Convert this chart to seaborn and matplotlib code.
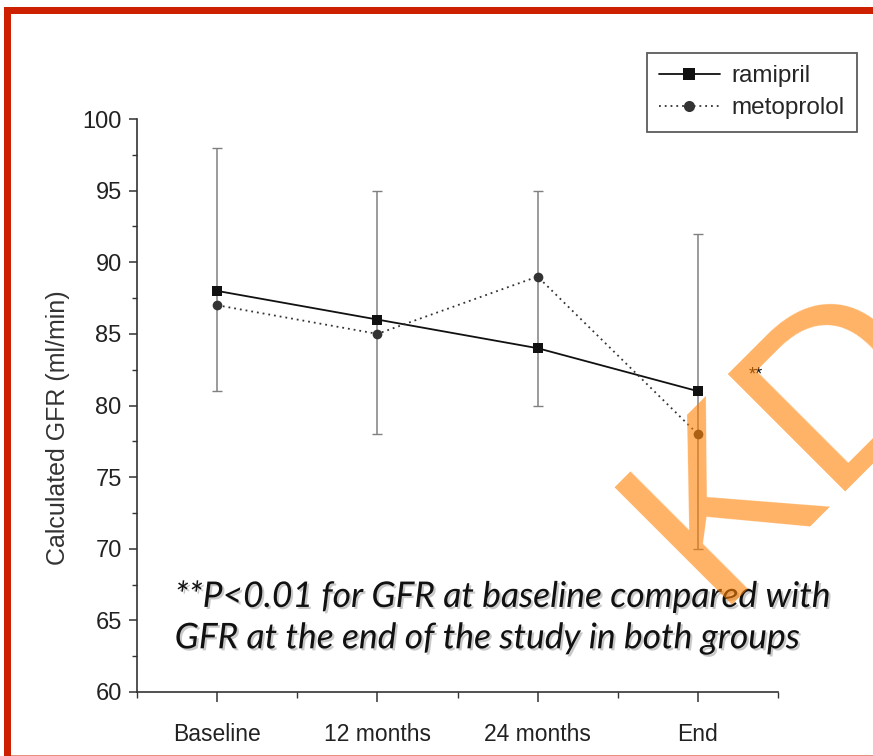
import matplotlib
matplotlib.use("Agg")
import matplotlib.pyplot as plt
import matplotlib.patheffects as pe
from matplotlib.lines import Line2D
from matplotlib.patches import Rectangle
from matplotlib.ticker import MultipleLocator
import numpy as np
import pandas as pd
import seaborn as sns

# data
timepoints = ["Baseline", "12 months", "24 months", "End"]
ramipril = [88, 86, 84, 81]
metoprolol = [87, 85, 89, 78]
err_low = [81, 78, 80, 70]
err_high = [98, 95, 95, 92]

sns.set_style("ticks")
plt.rcParams["font.family"] = ["Liberation Sans Narrow", "Liberation Sans", "DejaVu Sans"]

df = pd.DataFrame({
    "pos": list(range(len(timepoints))) * 2,
    "gfr": ramipril + metoprolol,
    "drug": ["ramipril"] * len(ramipril) + ["metoprolol"] * len(metoprolol),
})

fig = plt.figure(figsize=(8.73, 7.56), dpi=100)
ax = fig.add_axes([137 / 873, 1 - 692 / 756, (778 - 137) / 873, (692 - 119) / 756])

x = np.arange(len(timepoints))
lo = np.array(err_low)
hi = np.array(err_high)
ax.errorbar(x, (lo + hi) / 2, yerr=(hi - lo) / 2, fmt="none", ecolor="#808080",
            elinewidth=1.1, capsize=3.6, capthick=1.0, zorder=1)

sns.lineplot(data=df, x="pos", y="gfr", hue="drug", style="drug",
             palette={"ramipril": "#111111", "metoprolol": "#333333"},
             markers={"ramipril": "s", "metoprolol": "o"},
             dashes={"ramipril": "", "metoprolol": (1, 2.2)},
             markersize=7, markeredgewidth=0, linewidth=1.3,
             legend=False, ax=ax, zorder=2)

ax.set_xlim(-0.5, 3.5)
ax.set_ylim(60, 100)
ax.set_xticks(x)
ax.set_xticklabels(timepoints)
ax.xaxis.set_minor_locator(MultipleLocator(1, offset=0.5))
ax.yaxis.set_major_locator(MultipleLocator(5))
ax.yaxis.set_minor_locator(MultipleLocator(2.5))
ax.set_xlabel("")
ax.set_ylabel("Calculated GFR (ml/min)", fontsize=18, color="#333333")
ax.yaxis.set_label_coords(-0.105, 0.461)

for s in ["top", "right"]:
    ax.spines[s].set_visible(False)
for s in ["left", "bottom"]:
    ax.spines[s].set_color("#333333")
    ax.spines[s].set_linewidth(1.2)

ax.tick_params(axis="y", which="major", length=6, width=1.1, color="#333333",
               labelsize=17, labelcolor="#222222", pad=5)
ax.tick_params(axis="y", which="minor", length=3.6, width=1.0, color="#333333")
ax.tick_params(axis="x", which="major", length=7, width=1.1, color="#333333",
               labelsize=16.5, labelcolor="#222222", pad=15)
ax.tick_params(axis="x", which="minor", length=4, width=1.0, color="#333333")

ax.text(3.36, 82.1, "**", fontsize=13, ha="center", va="center", color="#111111")

# va="baseline" lines up the last line here
ax.text(-0.265, 63.05,
        "**P<0.01 for GFR at baseline compared with\nGFR at the end of the study in both groups",
        family=["Lato", "Open Sans", "DejaVu Sans"], style="italic", fontsize=25.5,
        linespacing=1.36, color="#111111", ha="left", va="baseline",
        path_effects=[pe.withSimplePatchShadow(offset=(1.5, -1.5), shadow_rgbFace="#888888", alpha=0.45)])

handles = [
    Line2D([], [], color="#111111", lw=1.3, marker="s", markersize=8, markeredgewidth=0),
    Line2D([], [], color="#333333", lw=1.3, ls=(0, (1, 2.2)), marker="o", markersize=8, markeredgewidth=0),
]
leg = fig.legend(handles, ["ramipril", "metoprolol"], loc="upper right",
                 bbox_to_anchor=(857 / 873, 1 - 53 / 756), fontsize=17.5,
                 frameon=True, fancybox=False, handlelength=2.5, handletextpad=0.5,
                 borderpad=0.5, labelspacing=0.42, borderaxespad=0)
leg.get_frame().set_edgecolor("#333333")
leg.get_frame().set_linewidth(1.3)

# watermark
fig.text(712 / 873, 1 - 605 / 756, "KD", fontsize=174, rotation=45, rotation_mode="anchor",
         ha="left", va="baseline", color="#FF8000", alpha=0.6,
         family=["Liberation Sans", "DejaVu Sans"], zorder=10)

# red frame
fig.patches.append(Rectangle((8 / 873, 1 - 14 / 756), 1, 7 / 756, transform=fig.transFigure,
                             facecolor="#CC2000", edgecolor="none", zorder=20))
fig.patches.append(Rectangle((4 / 873, 0), 7 / 873, 1 - 7 / 756, transform=fig.transFigure,
                             facecolor="#CC2000", edgecolor="none", zorder=20))
fig.patches.append(Rectangle((11 / 873, 0), 1, 1.5 / 756, transform=fig.transFigure,
                             facecolor="#E8907F", edgecolor="none", zorder=20))

fig.savefig("out.png", dpi=100)
